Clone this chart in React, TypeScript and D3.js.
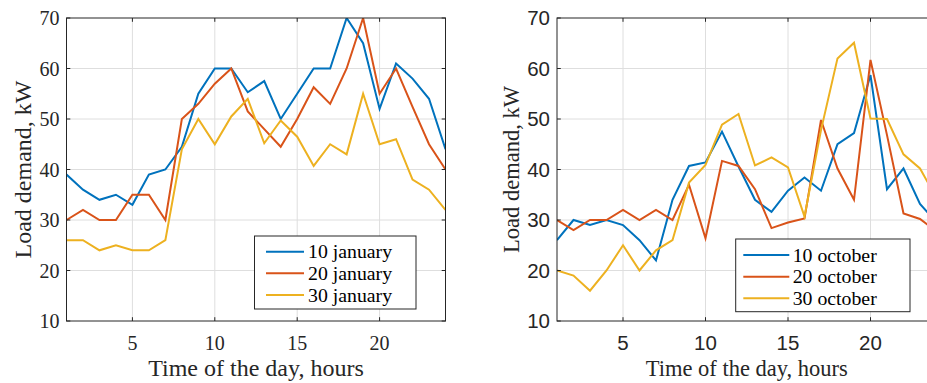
import React from "react";
import * as d3 from "d3";

// hours of the day (x categories)
const hours = [1, 2, 3, 4, 5, 6, 7, 8, 9, 10, 11, 12, 13, 14, 15, 16, 17, 18, 19, 20, 21, 22, 23, 24];
const yTicks = [10, 20, 30, 40, 50, 60, 70];
const xTicks = [5, 10, 15, 20];

// January load demand, kW
const jan10 = [39, 36, 34, 35, 33, 39, 40, 44.5, 55, 60, 60, 55.3, 57.5, 50, 55, 60, 60, 70, 65, 52, 61, 58, 54, 44];
const jan20 = [30, 32, 30, 30, 35, 35, 30, 50, 53, 57, 60, 51.5, 48, 44.5, 50, 56.3, 53, 60, 70, 55, 60, 52.4, 45, 40];
const jan30 = [26, 26, 24, 25, 24, 24, 26, 44, 50, 45, 50.5, 54, 45.2, 49.7, 46.5, 40.7, 45, 43, 55, 45, 46, 38, 36, 32];

// October load demand, kW
const oct10 = [26, 30, 29, 30, 29, 26, 22, 34, 40.7, 41.4, 47.5, 40.6, 34, 31.6, 35.8, 38.4, 35.8, 45, 47.2, 58.7, 36.1, 40.2, 33.2, 29.5];
const oct20 = [30, 28, 30, 30, 32, 30, 32, 30, 37, 26.4, 41.7, 40.7, 36.1, 28.4, 29.5, 30.3, 49.8, 40.2, 34, 61.7, 46.8, 31.3, 30.2, 27.7];
const oct30 = [20, 19, 16, 20, 25, 20, 24, 26, 37.4, 40.9, 48.9, 51, 40.8, 42.4, 40.4, 30.7, 47.8, 62, 65.1, 50.1, 50, 43, 40.2, 34.4];

const janNames = ["10 january", "20 january", "30 january"];
const octNames = ["10 october", "20 october", "30 october"];
const colors = ["#0072BD", "#D95319", "#EDB120"];

const SERIF = "'Liberation Serif', 'Times New Roman', serif";
const SANS = "'Liberation Sans', Arial, Helvetica, sans-serif";
const AXIS = "#262626";
const GRID = "#dedede";

type PanelProps = {
  x0: number;
  x1: number;
  series: number[][];
  names: string[];
  tickFont: string;
  tickSize: number;
  labelSize: number;
  yLabelX: number;
  legend: { left: number; top: number; right: number; bottom: number; l0: number; l1: number; tx: number; rows: number[] };
};

const Panel = ({ x0, x1, series, names, tickFont, tickSize, labelSize, yLabelX, legend }: PanelProps) => {
  const top = 18;
  const bottom = 321;
  const x = d3.scaleLinear().domain([1, 24]).range([x0, x1]);
  const y = d3.scaleLinear().domain([10, 70]).range([bottom, top]);
  const line = d3
    .line<number>()
    .x((_, i) => x(hours[i]))
    .y((d) => y(d));
  const tl = 3.8;
  const clipId = `clip-${x0}`;

  return (
    <g>
      <defs>
        <clipPath id={clipId}>
          <rect x={x0} y={top} width={x1 - x0} height={bottom - top} />
        </clipPath>
      </defs>
      {/* grid */}
      {xTicks.map((t) => (
        <line key={"gx" + t} x1={x(t)} x2={x(t)} y1={top} y2={bottom} stroke={GRID} strokeWidth={1} />
      ))}
      {yTicks.slice(1, -1).map((t) => (
        <line key={"gy" + t} x1={x0} x2={x1} y1={y(t)} y2={y(t)} stroke={GRID} strokeWidth={1} />
      ))}
      {/* series */}
      <g clipPath={`url(#${clipId})`}>
        {series.map((s, i) => (
          <path key={i} d={line(s) || ""} fill="none" stroke={colors[i]} strokeWidth={2} strokeLinejoin="miter" />
        ))}
      </g>
      {/* box */}
      <rect x={x0} y={top} width={x1 - x0} height={bottom - top} fill="none" stroke={AXIS} strokeWidth={1} />
      {/* ticks */}
      {xTicks.map((t) => (
        <g key={"tx" + t}>
          <line x1={x(t)} x2={x(t)} y1={bottom} y2={bottom - tl} stroke={AXIS} />
          <line x1={x(t)} x2={x(t)} y1={top} y2={top + tl} stroke={AXIS} />
          <text x={x(t)} y={350} textAnchor="middle" fontFamily={tickFont} fontSize={tickSize} fill={AXIS}>
            {t}
          </text>
        </g>
      ))}
      {yTicks.map((t) => (
        <g key={"ty" + t}>
          <line x1={x0} x2={x0 + tl} y1={y(t)} y2={y(t)} stroke={AXIS} />
          <line x1={x1} x2={x1 - tl} y1={y(t)} y2={y(t)} stroke={AXIS} />
          <text x={x0 - 7} y={y(t)} dy="0.35em" textAnchor="end" fontFamily={tickFont} fontSize={tickSize} fill={AXIS}>
            {t}
          </text>
        </g>
      ))}
      {/* axis labels */}
      <text x={(x0 + x1) / 2} y={376} textAnchor="middle" fontFamily={SERIF} fontSize={labelSize} fill={AXIS}>
        Time of the day, hours
      </text>
      <text
        transform={`translate(${yLabelX},${(top + bottom) / 2}) rotate(-90)`}
        textAnchor="middle"
        fontFamily={SERIF}
        fontSize={labelSize}
        fill={AXIS}
      >
        Load demand, kW
      </text>
      {/* legend */}
      <rect
        x={legend.left}
        y={legend.top}
        width={legend.right - legend.left}
        height={legend.bottom - legend.top}
        fill="#fff"
        stroke={AXIS}
        strokeWidth={1}
      />
      {names.map((n, i) => (
        <g key={n}>
          <line x1={legend.l0} x2={legend.l1} y1={legend.rows[i]} y2={legend.rows[i]} stroke={colors[i]} strokeWidth={2} />
          <text x={legend.tx} y={legend.rows[i]} dy="0.33em" fontFamily={SERIF} fontSize={19.8} fill="#000">
            {n}
          </text>
        </g>
      ))}
    </g>
  );
};

export default function App() {
  return (
    <svg width={927} height={383} style={{ position: "absolute", left: 0, top: 0, background: "#fff" }}>
      <rect width={927} height={383} fill="#fff" />
      <Panel
        x0={66.5}
        x1={445.5}
        series={[jan10, jan20, jan30]}
        names={janNames}
        tickFont={SERIF}
        tickSize={20}
        labelSize={24}
        yLabelX={30.5}
        legend={{ left: 254.5, top: 236, right: 416, bottom: 309, l0: 266, l1: 304, tx: 308, rows: [251.7, 273.3, 295] }}
      />
      <Panel
        x0={557}
        x1={936.5}
        series={[oct10, oct20, oct30]}
        names={octNames}
        tickFont={SANS}
        tickSize={20.5}
        labelSize={22.5}
        yLabelX={518.5}
        legend={{ left: 735.7, top: 239, right: 910, bottom: 311.7, l0: 743.3, l1: 789.3, tx: 792.7, rows: [255, 276.7, 298.3] }}
      />
    </svg>
  );
}
